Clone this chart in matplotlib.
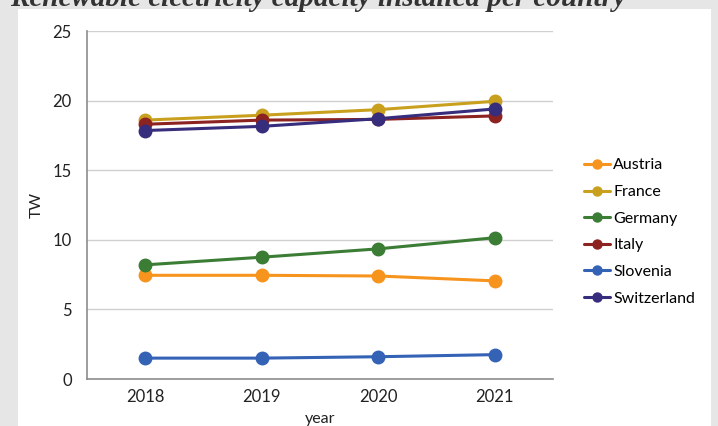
import matplotlib
matplotlib.use("Agg")
import matplotlib.pyplot as plt

years = [2018, 2019, 2020, 2021]
countries = ["Austria", "France", "Germany", "Italy", "Slovenia", "Switzerland"]
austria = [7.45, 7.45, 7.4, 7.05]
france = [18.6, 18.95, 19.35, 19.95]
germany = [8.2, 8.75, 9.35, 10.15]
italy = [18.3, 18.6, 18.65, 18.9]
slovenia = [1.5, 1.5, 1.6, 1.75]
switzerland = [17.85, 18.15, 18.7, 19.4]
series = [austria, france, germany, italy, slovenia, switzerland]
colors = ["#F7941D", "#C9A01E", "#3B7D34", "#8C2320", "#3462B5", "#372D7D"]
yticks = [0, 5, 10, 15, 20, 25]

W, H = 718, 426
fig = plt.figure(figsize=(W / 100, H / 100), dpi=100)
fig.patch.set_facecolor("#e6e6e6")
bg = fig.add_axes([18 / W, 0, (711 - 18) / W, (H - 9) / H], zorder=0)
bg.set_facecolor("white")
bg.set_xticks([])
bg.set_yticks([])
for s in bg.spines.values():
    s.set_visible(False)

fig.text(318 / W, 1 - 6 / H, "Renewable electricity capacity installed per country",
         ha="center", va="baseline", fontsize=21, style="italic", weight="bold",
         family="Liberation Serif", color="#333333", zorder=5)

ax = fig.add_axes([87 / W, 1 - 379 / H, (553 - 87) / W, (379 - 31) / H], zorder=2)
ax.set_facecolor("none")
for name, vals, c in zip(countries, series, colors):
    ax.plot(years, vals, color=c, lw=2.2, marker="o", markersize=9, label=name,
            solid_capstyle="round", clip_on=False)

ax.set_xlim(2017.5, 2021.5)
ax.set_ylim(0, 25)
ax.set_yticks(yticks)
ax.set_xticks(years)
ax.grid(axis="y", color="#d0d0d0", lw=1)
ax.set_axisbelow(True)
for s in ["top", "right"]:
    ax.spines[s].set_visible(False)
for s in ["left", "bottom"]:
    ax.spines[s].set_color("#8c8c8c")
    ax.spines[s].set_linewidth(1.2)
ax.tick_params(length=0, labelsize=12, colors="#222222")
ax.tick_params(axis="y", pad=11)
ax.tick_params(axis="x", pad=7)
for lab in ax.get_xticklabels() + ax.get_yticklabels():
    lab.set_family("Lato")
ax.set_xlabel("year", fontsize=11.5, family="Lato", color="#222222", labelpad=5)
ax.set_ylabel("TW", fontsize=11.5, family="Lato", color="#222222", labelpad=6)

handles, labels = ax.get_legend_handles_labels()
leg = fig.legend(handles, labels, loc="center left", bbox_to_anchor=(570 / W, 1 - 232 / H),
                 frameon=False, handlelength=1.6, handletextpad=0.2,
                 labelspacing=0.78, prop={"family": "Lato", "size": 11.5},
                 markerscale=0.72)
leg.set_zorder(5)

fig.savefig("out.png", dpi=100, facecolor=fig.get_facecolor())
